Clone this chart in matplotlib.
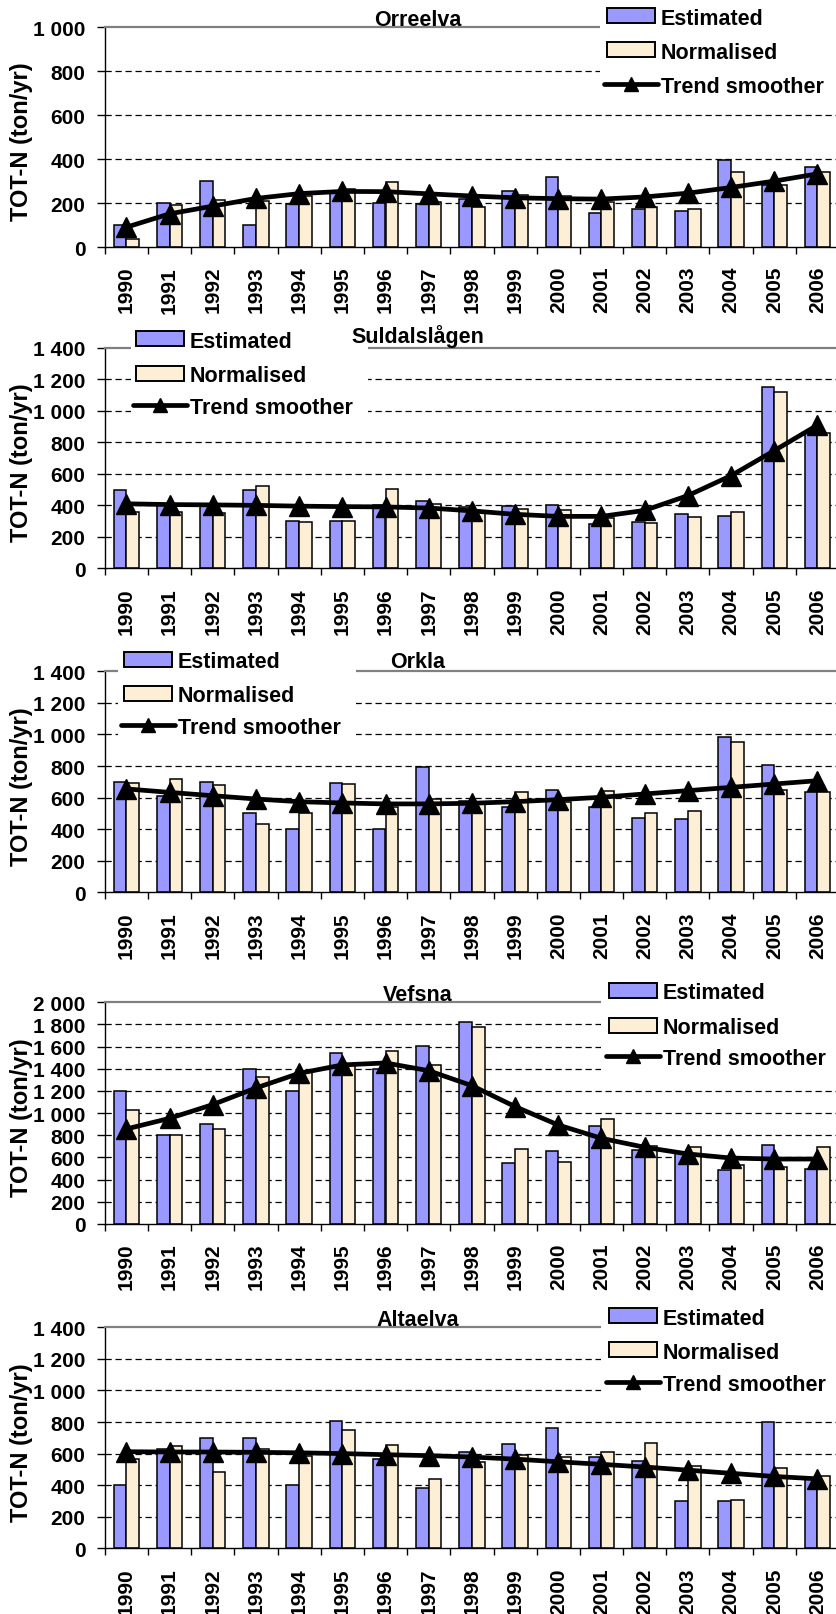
import matplotlib
matplotlib.use('Agg')
import matplotlib.pyplot as plt
from matplotlib.patches import Rectangle
from matplotlib.lines import Line2D
from matplotlib.ticker import FixedLocator, FuncFormatter
import numpy as np

plt.rcParams['font.family'] = ['Liberation Sans', 'DejaVu Sans']
plt.rcParams['font.weight'] = 'bold'

# ─── Data (ton/yr) ───
years = [str(y) for y in range(1990, 2007)]

orre_est = [100, 200, 300, 100, 195, 255, 200, 195, 220, 255, 320, 155, 172, 165, 394, 280, 363]
orre_norm = [35, 192, 215, 210, 230, 265, 295, 205, 180, 235, 230, 207, 181, 171, 340, 282, 340]
orre_trend = [90, 151, 186, 221, 243, 253, 252, 242, 232, 224, 220, 218, 228, 245, 271, 300, 333]

suld_est = [500, 400, 400, 500, 300, 300, 400, 430, 390, 395, 400, 282, 292, 342, 331, 1155, 860]
suld_norm = [355, 360, 350, 523, 297, 300, 507, 410, 360, 375, 373, 320, 290, 329, 357, 1120, 860]
suld_trend = [410, 405, 403, 400, 395, 392, 390, 383, 365, 343, 330, 330, 368, 462, 589, 748, 910]

orkla_est = [700, 610, 700, 502, 401, 690, 401, 796, 580, 538, 650, 538, 473, 464, 986, 806, 633]
orkla_norm = [690, 720, 682, 433, 502, 684, 538, 590, 570, 633, 570, 644, 500, 517, 950, 650, 633]
orkla_trend = [655, 633, 612, 591, 574, 566, 560, 560, 564, 574, 587, 602, 623, 644, 665, 686, 707]

vefs_est = [1200, 800, 902, 1398, 1200, 1545, 1400, 1610, 1820, 550, 656, 881, 670, 650, 490, 716, 500]
vefs_norm = [1029, 800, 854, 1323, 1370, 1440, 1564, 1435, 1775, 677, 562, 947, 700, 692, 530, 511, 692]
vefs_trend = [857, 953, 1077, 1227, 1359, 1435, 1453, 1383, 1248, 1059, 893, 773, 692, 632, 595, 586, 586]

alta_est = [400, 630, 700, 700, 400, 807, 566, 382, 608, 661, 760, 576, 555, 300, 300, 798, 440]
alta_norm = [566, 646, 486, 630, 587, 747, 657, 441, 545, 590, 576, 612, 667, 524, 304, 509, 456]
alta_trend = [612, 610, 610, 608, 605, 600, 593, 587, 578, 565, 548, 532, 515, 495, 475, 455, 440]

# ─── Colours ───
est_color = '#9999FF'
norm_color = '#FDEFD6'
top_grey = '#808080'

W, H = 836, 1615
fig = plt.figure(figsize=(W / 100, H / 100), dpi=100)
fig.patch.set_facecolor('white')


def fx(x):
    return x / W


def fy(y):
    return 1 - y / H


def thousands(v, pos=None):
    return f'{v:,.0f}'.replace(',', ' ')


def draw_legend(x0, y_rows, box):
    # white box hiding grid lines behind the legend
    bx0, by0, bx1, by1 = box
    fig.patches.append(Rectangle((fx(bx0), fy(by1)), fx(bx1 - bx0), (by1 - by0) / H,
                                 transform=fig.transFigure, facecolor='white',
                                 edgecolor='none', zorder=5))
    labels = ['Estimated', 'Normalised', 'Trend smoother']
    for i, (lab, yc) in enumerate(zip(labels, y_rows)):
        if i < 2:
            col = est_color if i == 0 else norm_color
            fig.patches.append(Rectangle((fx(x0), fy(yc + 7.5)), fx(48), 15 / H,
                                         transform=fig.transFigure, facecolor=col,
                                         edgecolor='black', linewidth=1.4, zorder=6))
        else:
            fig.lines.append(Line2D([fx(x0 - 3), fx(x0 + 51)], [fy(yc), fy(yc)],
                                    transform=fig.transFigure, color='black',
                                    linewidth=3.4, solid_capstyle='round', zorder=6))
            fig.lines.append(Line2D([fx(x0 + 24)], [fy(yc)], transform=fig.transFigure,
                                    marker='^', markersize=10, color='black',
                                    linestyle='none', zorder=7))
        fig.text(fx(x0 + 54), fy(yc), lab, ha='left', va='center_baseline',
                 fontsize=15.5, fontweight='bold', zorder=7)


panels = [
    # name, est, norm, trend, top px, bottom px, ymax, ystep, title baseline, legend
    ('Orreelva', orre_est, orre_norm, orre_trend, 28.3, 248.0, 1000, 200, 26,
     (607, [16.7, 50.7, 85.0], (600, 0, 836, 100))),
    ('Suldalslågen', suld_est, suld_norm, suld_trend, 349.0, 569.3, 1400, 200, 343,
     (136, [339.8, 374.2, 406.0], (131, 325, 368, 420))),
    ('Orkla', orkla_est, orkla_norm, orkla_trend, 672.3, 893.3, 1400, 200, 668,
     (124, [660.0, 694.0, 726.0], (118, 645, 356, 745))),
    ('Vefsna', vefs_est, vefs_norm, vefs_trend, 1003.3, 1225.0, 2000, 200, 1000.7,
     (609, [991.5, 1026.0, 1056.7], (601, 975, 836, 1080))),
    ('Altaelva', alta_est, alta_norm, alta_trend, 1328.3, 1549.3, 1400, 200, 1326,
     (609, [1316.7, 1350.8, 1383.3], (601, 1300, 836, 1405))),
]

ax_left, ax_right = 104.7, 839.1
x = np.arange(len(years))
bw = 0.295

for name, est, norm, trend, top, bot, ymax, ystep, tb, leg in panels:
    ax = fig.add_axes([fx(ax_left), fy(bot), (ax_right - ax_left) / W, (bot - top) / H])
    ax.set_xlim(-0.5, len(years) - 0.5)
    ax.set_ylim(0, ymax)

    # dashed grid
    for v in range(ystep, ymax, ystep):
        ax.axhline(v, color='black', linewidth=0.9, linestyle=(0, (5, 3)), zorder=1)

    ax.bar(x - bw / 2, est, width=bw, color=est_color, edgecolor='black',
           linewidth=1.1, zorder=2)
    ax.bar(x + bw / 2, norm, width=bw, color=norm_color, edgecolor='black',
           linewidth=1.1, zorder=2)
    ax.plot(x, trend, color='black', linewidth=3.4, marker='^', markersize=15,
            zorder=4, clip_on=False)

    # spines
    ax.spines['right'].set_visible(False)
    ax.spines['top'].set_color(top_grey)
    ax.spines['top'].set_linewidth(1.6)
    ax.spines['left'].set_linewidth(1.0)
    ax.spines['bottom'].set_linewidth(1.0)

    # y axis
    ax.yaxis.set_major_locator(FixedLocator(list(range(0, ymax + 1, ystep))))
    ax.yaxis.set_major_formatter(FuncFormatter(thousands))
    ax.tick_params(axis='y', direction='out', length=6, width=1.0, pad=8,
                   labelsize=15)

    # x axis: ticks between categories, labels at centres
    ax.set_xticks(np.arange(-0.5, len(years), 1.0))
    ax.set_xticklabels([])
    ax.tick_params(axis='x', which='major', direction='out', length=5, width=1.0)
    ax.set_xticks(x, minor=True)
    ax.set_xticklabels(years, minor=True, rotation=90, fontsize=15,
                       fontweight='bold')
    ax.tick_params(axis='x', which='minor', length=0, pad=13.5)
    for lab in ax.get_yticklabels():
        lab.set_fontweight('bold')

    # y label
    fig.text(fx(22), fy((top + bot) / 2 + 4), 'TOT-N (ton/yr)', rotation=90,
             ha='center', va='center', fontsize=17, fontweight='bold')

    # title
    fig.text(fx(418), fy(tb), name, ha='center', va='baseline', fontsize=15.5,
             fontweight='bold', zorder=7)

    lx, rows, box = leg
    draw_legend(lx, rows, box)

fig.savefig('out.png', dpi=100, facecolor='white')
